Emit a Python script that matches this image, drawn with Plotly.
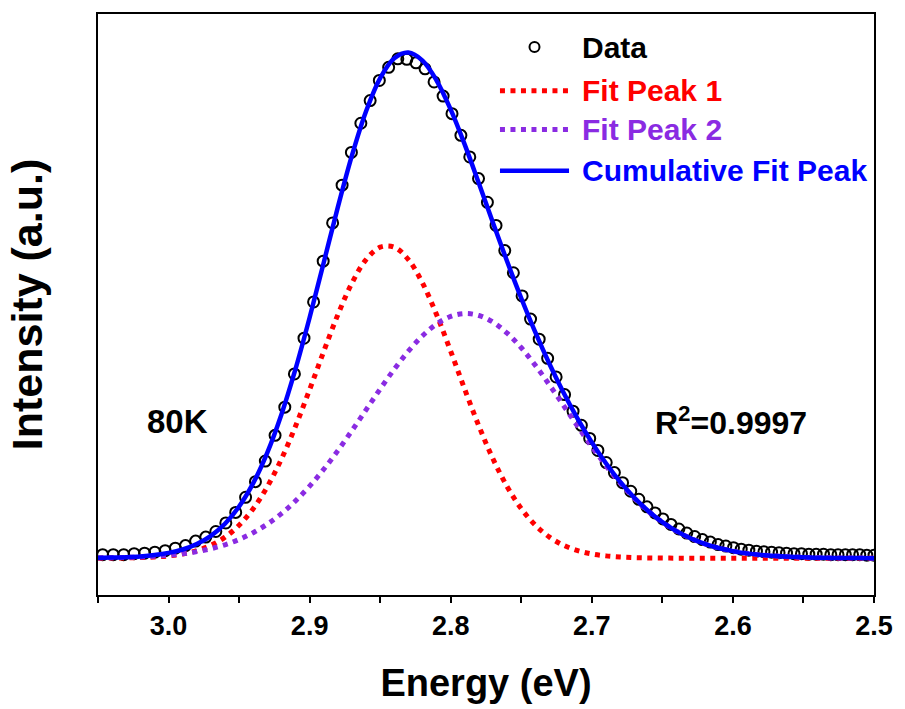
import plotly.graph_objects as go

# Measured PL spectrum at 80 K (1 nm steps, 407-496 nm, shown in eV)
data_energy = [
    3.0467, 3.0392, 3.0318, 3.0244, 3.0170, 3.0097, 3.0024, 2.9952, 2.9880, 2.9808,
    2.9736, 2.9665, 2.9594, 2.9524, 2.9454, 2.9384, 2.9314, 2.9245, 2.9176, 2.9108,
    2.9040, 2.8972, 2.8904, 2.8837, 2.8770, 2.8704, 2.8637, 2.8571, 2.8506, 2.8440,
    2.8375, 2.8311, 2.8246, 2.8182, 2.8118, 2.8054, 2.7991, 2.7928, 2.7865, 2.7803,
    2.7740, 2.7679, 2.7617, 2.7556, 2.7494, 2.7434, 2.7373, 2.7313, 2.7253, 2.7193,
    2.7133, 2.7074, 2.7015, 2.6957, 2.6898, 2.6840, 2.6782, 2.6724, 2.6667, 2.6609,
    2.6552, 2.6496, 2.6439, 2.6383, 2.6327, 2.6271, 2.6216, 2.6160, 2.6105, 2.6050,
    2.5996, 2.5941, 2.5887, 2.5833, 2.5780, 2.5726, 2.5673, 2.5620, 2.5567, 2.5514,
    2.5462, 2.5410, 2.5358, 2.5306, 2.5255, 2.5203, 2.5152, 2.5101, 2.5051, 2.5000,
]
data_intensity = [
    0.007, 0.007, 0.007, 0.009, 0.010, 0.012, 0.015, 0.020, 0.025, 0.034,
    0.042, 0.053, 0.070, 0.091, 0.121, 0.152, 0.193, 0.244, 0.300, 0.366,
    0.437, 0.509, 0.590, 0.666, 0.741, 0.806, 0.864, 0.909, 0.949, 0.975,
    0.992, 0.991, 0.984, 0.972, 0.946, 0.918, 0.883, 0.840, 0.797, 0.754,
    0.707, 0.661, 0.611, 0.567, 0.521, 0.475, 0.435, 0.397, 0.360, 0.325,
    0.292, 0.264, 0.238, 0.214, 0.190, 0.170, 0.150, 0.133, 0.117, 0.102,
    0.090, 0.078, 0.067, 0.058, 0.050, 0.043, 0.037, 0.032, 0.027, 0.024,
    0.021, 0.018, 0.016, 0.014, 0.013, 0.012, 0.011, 0.010, 0.009, 0.009,
    0.008, 0.008, 0.008, 0.007, 0.007, 0.007, 0.007, 0.007, 0.006, 0.006,
]

# Fitted components on a 0.01 eV grid
fit_energy = [
    3.05, 3.04, 3.03, 3.02, 3.01, 3.00, 2.99, 2.98, 2.97, 2.96,
    2.95, 2.94, 2.93, 2.92, 2.91, 2.90, 2.89, 2.88, 2.87, 2.86,
    2.85, 2.84, 2.83, 2.82, 2.81, 2.80, 2.79, 2.78, 2.77, 2.76,
    2.75, 2.74, 2.73, 2.72, 2.71, 2.70, 2.69, 2.68, 2.67, 2.66,
    2.65, 2.64, 2.63, 2.62, 2.61, 2.60, 2.59, 2.58, 2.57, 2.56,
    2.55, 2.54, 2.53, 2.52, 2.51, 2.50,
]
fit_peak1 = [
    0.0001, 0.0003, 0.0006, 0.0012, 0.0024, 0.0046, 0.0085, 0.0151, 0.0256, 0.0418,
    0.0655, 0.0984, 0.1421, 0.1970, 0.2622, 0.3350, 0.4108, 0.4836, 0.5466, 0.5931,
    0.6178, 0.6178, 0.5931, 0.5466, 0.4836, 0.4108, 0.3350, 0.2622, 0.1970, 0.1421,
    0.0984, 0.0655, 0.0418, 0.0256, 0.0151, 0.0085, 0.0046, 0.0024, 0.0012, 0.0006,
    0.0003, 0.0001, 0.0, 0.0, 0.0, 0.0, 0.0, 0.0, 0.0, 0.0,
    0.0, 0.0, 0.0, 0.0, 0.0, 0.0,
]
fit_peak2 = [
    0.0006, 0.0009, 0.0015, 0.0024, 0.0038, 0.0059, 0.0088, 0.0130, 0.0189, 0.0267,
    0.0372, 0.0507, 0.0677, 0.0886, 0.1138, 0.1432, 0.1767, 0.2137, 0.2535, 0.2948,
    0.3360, 0.3755, 0.4113, 0.4418, 0.4652, 0.4802, 0.4860, 0.4821, 0.4689, 0.4471,
    0.4180, 0.3830, 0.3441, 0.3031, 0.2617, 0.2215, 0.1839, 0.1496, 0.1193, 0.0933,
    0.0715, 0.0537, 0.0396, 0.0286, 0.0203, 0.0141, 0.0096, 0.0064, 0.0042, 0.0027,
    0.0017, 0.0010, 0.0006, 0.0004, 0.0002, 0.0001,
]
fit_cumulative = [
    0.0007, 0.0012, 0.0021, 0.0036, 0.0062, 0.0105, 0.0173, 0.0281, 0.0445, 0.0685,
    0.1027, 0.1491, 0.2098, 0.2856, 0.3760, 0.4782, 0.5875, 0.6973, 0.8001, 0.8879,
    0.9538, 0.9933, 1.0044, 0.9884, 0.9488, 0.8910, 0.8210, 0.7443, 0.6659, 0.5892,
    0.5164, 0.4485, 0.3859, 0.3287, 0.2768, 0.2300, 0.1885, 0.1520, 0.1205, 0.0939,
    0.0718, 0.0538, 0.0396, 0.0286, 0.0203, 0.0141, 0.0096, 0.0064, 0.0042, 0.0027,
    0.0017, 0.0010, 0.0006, 0.0004, 0.0002, 0.0001,
]

x_tick_values = [3.0, 2.9, 2.8, 2.7, 2.6, 2.5]
x_tick_labels = ["3.0", "2.9", "2.8", "2.7", "2.6", "2.5"]

series_names = ["Data", "Fit Peak 1", "Fit Peak 2", "Cumulative Fit Peak"]
series_colors = ["#000000", "#FF0000", "#8A2BE2", "#0000FF"]

assert len(data_energy) == len(data_intensity)
assert len(fit_energy) == len(fit_peak1) == len(fit_peak2) == len(fit_cumulative)

FONT = "Arial, 'Liberation Sans', Helvetica, sans-serif"
DOTS = "5px,5.5px"

fig = go.Figure()

fig.add_trace(go.Scatter(
    x=data_energy, y=data_intensity, mode="markers", name=series_names[0],
    marker=dict(symbol="circle-open", size=11, color=series_colors[0],
                line=dict(width=2, color=series_colors[0])),
    showlegend=False,
))
fig.add_trace(go.Scatter(
    x=fit_energy, y=fit_peak1, mode="lines", name=series_names[1],
    line=dict(color=series_colors[1], width=5, dash=DOTS, shape="spline"),
    showlegend=False,
))
fig.add_trace(go.Scatter(
    x=fit_energy, y=fit_peak2, mode="lines", name=series_names[2],
    line=dict(color=series_colors[2], width=5, dash=DOTS, shape="spline"),
    showlegend=False,
))
fig.add_trace(go.Scatter(
    x=fit_energy, y=fit_cumulative, mode="lines", name=series_names[3],
    line=dict(color=series_colors[3], width=4.5, shape="spline"),
    showlegend=False,
))

# Hand-placed legend keys (paper coordinates)
key_x0, key_x1, text_x = 0.518, 0.607, 0.621
row_y = [0.943, 0.868, 0.801, 0.730]
fig.add_shape(type="circle", xref="paper", yref="paper",
              xsizemode="pixel", ysizemode="pixel",
              xanchor=(key_x0 + key_x1) / 2, yanchor=row_y[0],
              x0=-5, x1=5, y0=-5, y1=5,
              line=dict(color=series_colors[0], width=2))
for i in (1, 2):
    fig.add_shape(type="line", xref="paper", yref="paper",
                  x0=key_x0, x1=key_x1, y0=row_y[i], y1=row_y[i],
                  line=dict(color=series_colors[i], width=5, dash=DOTS))
fig.add_shape(type="line", xref="paper", yref="paper",
              x0=key_x0, x1=key_x1, y0=row_y[3], y1=row_y[3],
              line=dict(color=series_colors[3], width=4.5))
for name, color, y in zip(series_names, series_colors, row_y):
    fig.add_annotation(x=text_x, y=y, xref="paper", yref="paper",
                       text=f"<b>{name}</b>", showarrow=False,
                       xanchor="left", yanchor="middle",
                       font=dict(family=FONT, size=30, color=color))

fig.add_annotation(x=0.102, y=0.298, xref="paper", yref="paper",
                   text="<b>80K</b>", showarrow=False,
                   xanchor="center", yanchor="middle",
                   font=dict(family=FONT, size=33, color="black"))
fig.add_annotation(x=0.816, y=0.300, xref="paper", yref="paper",
                   text="<b>R<sup>2</sup>=0.9997</b>", showarrow=False,
                   xanchor="center", yanchor="middle",
                   font=dict(family=FONT, size=32, color="black"))

fig.update_layout(
    width=905, height=709,
    margin=dict(l=98, r=24, t=14, b=111),
    paper_bgcolor="white", plot_bgcolor="white",
    font=dict(family=FONT, color="black"),
    xaxis=dict(
        range=[3.05, 2.5],
        tickmode="array", tickvals=x_tick_values,
        ticktext=[f"<b>{t}</b>" for t in x_tick_labels],
        ticks="outside", ticklen=6, tickwidth=2, tickcolor="black",
        minor=dict(dtick=0.05, tick0=2.5, ticks="outside", ticklen=6,
                   tickwidth=2, tickcolor="black"),
        tickfont=dict(family=FONT, size=27, color="black"),
        showline=True, linewidth=2, linecolor="black", mirror=True,
        showgrid=False, zeroline=False,
        title=dict(text="<b>Energy (eV)</b>", standoff=29,
                   font=dict(family=FONT, size=38, color="black")),
    ),
    yaxis=dict(
        range=[-0.0731, 1.081],
        showticklabels=False, ticks="",
        showline=True, linewidth=2, linecolor="black", mirror=True,
        showgrid=False, zeroline=False,
        title=dict(text="<b>Intensity (a.u.)</b>", standoff=40,
                   font=dict(family=FONT, size=43, color="black")),
    ),
)

fig.write_html("out.html")
